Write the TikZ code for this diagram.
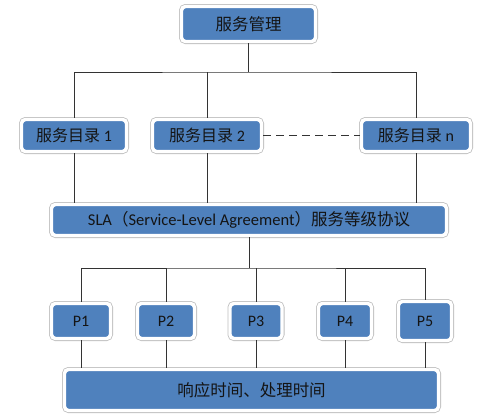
\documentclass[tikz,border=0pt]{standalone}
\usepackage{fontspec}
\setmainfont{Carlito}
\newfontfamily\cjk{Noto Sans CJK SC}
\usepackage{tikz}
\usetikzlibrary{positioning, shadows, calc}
\definecolor{sblue}{HTML}{4F81BD}
\definecolor{stext}{HTML}{141414}
\definecolor{sline}{HTML}{333333}
\tikzset{
  sbox/.style={fill=sblue, draw=white, line width=3.4pt, rounded corners=4pt,
               text=stext, inner sep=2pt, font=\fontsize{16}{19}\selectfont,
               preaction={draw=black!25, line width=5pt},
               drop shadow={shadow xshift=1.4pt, shadow yshift=-1.8pt, fill=black!25}},
  lnk/.style={draw=sline, line width=0.8pt},
  dlnk/.style={draw=sline, line width=1.6pt, dash pattern=on 8pt off 5pt},
}

\begin{document}
\begin{tikzpicture}[x=1pt, y=-1pt]
  \useasboundingbox (0,0) rectangle (499,418);

  %% Top
  \node[sbox, minimum width=134pt, minimum height=35pt, font=\fontsize{16.5}{19}\selectfont]
    (top) at (248.5,24) {\cjk 服务管理};

  %% Service catalogues
  \node[sbox, minimum width=105pt, minimum height=32pt] (cat1) at (74,135.5) {{\cjk 服务目录} 1};
  \node[sbox, minimum width=109pt, minimum height=32pt] (cat2) at (207,135.5) {{\cjk 服务目录} 2};
  \node[sbox, minimum width=109pt, minimum height=32pt] (catn) at (416,135.5) {{\cjk 服务目录} n};

  %% SLA
  \node[sbox, minimum width=395pt, minimum height=31pt, font=\fontsize{16.5}{19}\selectfont] (sla) at (249,220)
    {SLA{\cjk （}Service-Level Agreement{\cjk ）服务等级协议}};

  %% Processes
  \node[sbox, minimum width=59pt, minimum height=35pt] (p1) at (81,321) {P1};
  \node[sbox, minimum width=57pt, minimum height=35pt] (p2) at (166,321) {P2};
  \node[sbox, minimum width=52pt, minimum height=35pt] (p3) at (256,321) {P3};
  \node[sbox, minimum width=53pt, minimum height=35pt] (p4) at (345,321) {P4};
  \node[sbox, minimum width=53pt, minimum height=39pt] (p5) at (425,321) {P5};

  %% Bottom
  \node[sbox, minimum width=374pt, minimum height=41pt, font=\fontsize{16.5}{19}\selectfont]
    (bot) at (251.5,390) {\cjk 响应时间、处理时间};

  %% Buses
  \coordinate (bus1) at (248.5,72);
  \coordinate (bus2) at (249,268);

  \draw[lnk] (top) -- (bus1);
  \draw[lnk] (cat1) |- (bus1) -| (catn);
  \draw[lnk] (cat2) -- (cat2 |- bus1);
  \draw[dlnk] (cat2) -- (catn);

  \foreach \c in {cat1, cat2, catn}
    \draw[lnk] (\c) -- (\c |- sla.north);

  \draw[lnk] (sla) -- (bus2);
  \draw[lnk] (p1) |- (bus2) -| (p5);
  \foreach \p in {p2, p3, p4}
    \draw[lnk] (\p) -- (\p |- bus2);

  \foreach \p in {p1, p2, p3, p4, p5}
    \draw[lnk] (\p) -- (\p |- bot.north);
\end{tikzpicture}
\end{document}
